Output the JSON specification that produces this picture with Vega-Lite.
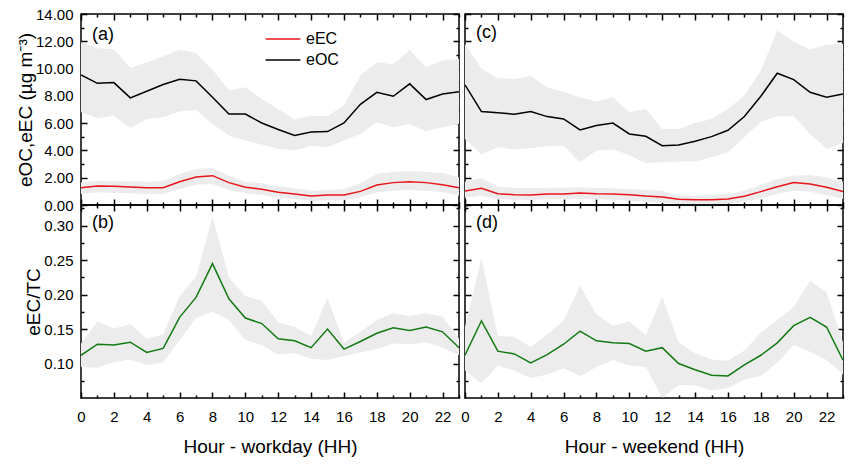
{
  "$schema": "https://vega.github.io/schema/vega-lite/v6.json",
  "background": "white",
  "padding": {"left": 15, "top": 6, "right": 5, "bottom": 5},
  "datasets": {
    "top": [
      {"day": "workday", "series": "eOC", "hour": 0, "mean": 9.54, "lo": 6.80, "hi": 11.93},
      {"day": "workday", "series": "eOC", "hour": 1, "mean": 8.92, "lo": 6.36, "hi": 11.49},
      {"day": "workday", "series": "eOC", "hour": 2, "mean": 8.97, "lo": 6.55, "hi": 11.44},
      {"day": "workday", "series": "eOC", "hour": 3, "mean": 7.85, "lo": 5.65, "hi": 10.05},
      {"day": "workday", "series": "eOC", "hour": 4, "mean": 8.34, "lo": 6.31, "hi": 10.46},
      {"day": "workday", "series": "eOC", "hour": 5, "mean": 8.83, "lo": 6.43, "hi": 10.88},
      {"day": "workday", "series": "eOC", "hour": 6, "mean": 9.22, "lo": 6.85, "hi": 11.39},
      {"day": "workday", "series": "eOC", "hour": 7, "mean": 9.10, "lo": 6.97, "hi": 11.12},
      {"day": "workday", "series": "eOC", "hour": 8, "mean": 7.90, "lo": 5.94, "hi": 9.93},
      {"day": "workday", "series": "eOC", "hour": 9, "mean": 6.67, "lo": 5.09, "hi": 8.39},
      {"day": "workday", "series": "eOC", "hour": 10, "mean": 6.67, "lo": 4.72, "hi": 8.63},
      {"day": "workday", "series": "eOC", "hour": 11, "mean": 6.01, "lo": 4.43, "hi": 7.77},
      {"day": "workday", "series": "eOC", "hour": 12, "mean": 5.53, "lo": 4.11, "hi": 7.04},
      {"day": "workday", "series": "eOC", "hour": 13, "mean": 5.09, "lo": 3.99, "hi": 6.26},
      {"day": "workday", "series": "eOC", "hour": 14, "mean": 5.35, "lo": 4.35, "hi": 6.55},
      {"day": "workday", "series": "eOC", "hour": 15, "mean": 5.38, "lo": 4.23, "hi": 6.50},
      {"day": "workday", "series": "eOC", "hour": 16, "mean": 6.01, "lo": 4.72, "hi": 7.33},
      {"day": "workday", "series": "eOC", "hour": 17, "mean": 7.38, "lo": 5.21, "hi": 9.49},
      {"day": "workday", "series": "eOC", "hour": 18, "mean": 8.26, "lo": 6.06, "hi": 10.46},
      {"day": "workday", "series": "eOC", "hour": 19, "mean": 7.97, "lo": 5.70, "hi": 10.32},
      {"day": "workday", "series": "eOC", "hour": 20, "mean": 8.88, "lo": 5.94, "hi": 11.37},
      {"day": "workday", "series": "eOC", "hour": 21, "mean": 7.73, "lo": 5.40, "hi": 10.10},
      {"day": "workday", "series": "eOC", "hour": 22, "mean": 8.14, "lo": 5.70, "hi": 10.59},
      {"day": "workday", "series": "eOC", "hour": 23, "mean": 8.31, "lo": 5.94, "hi": 10.71},
      {"day": "workday", "series": "eEC", "hour": 0, "mean": 1.27, "lo": 0.81, "hi": 1.66},
      {"day": "workday", "series": "eEC", "hour": 1, "mean": 1.39, "lo": 0.93, "hi": 1.78},
      {"day": "workday", "series": "eEC", "hour": 2, "mean": 1.37, "lo": 0.88, "hi": 1.76},
      {"day": "workday", "series": "eEC", "hour": 3, "mean": 1.32, "lo": 0.86, "hi": 1.74},
      {"day": "workday", "series": "eEC", "hour": 4, "mean": 1.27, "lo": 0.81, "hi": 1.71},
      {"day": "workday", "series": "eEC", "hour": 5, "mean": 1.27, "lo": 0.81, "hi": 1.74},
      {"day": "workday", "series": "eEC", "hour": 6, "mean": 1.71, "lo": 1.17, "hi": 2.27},
      {"day": "workday", "series": "eEC", "hour": 7, "mean": 2.05, "lo": 1.49, "hi": 2.64},
      {"day": "workday", "series": "eEC", "hour": 8, "mean": 2.15, "lo": 1.54, "hi": 2.71},
      {"day": "workday", "series": "eEC", "hour": 9, "mean": 1.64, "lo": 1.10, "hi": 2.15},
      {"day": "workday", "series": "eEC", "hour": 10, "mean": 1.30, "lo": 0.86, "hi": 1.71},
      {"day": "workday", "series": "eEC", "hour": 11, "mean": 1.15, "lo": 0.73, "hi": 1.59},
      {"day": "workday", "series": "eEC", "hour": 12, "mean": 0.93, "lo": 0.56, "hi": 1.37},
      {"day": "workday", "series": "eEC", "hour": 13, "mean": 0.81, "lo": 0.44, "hi": 1.22},
      {"day": "workday", "series": "eEC", "hour": 14, "mean": 0.66, "lo": 0.29, "hi": 1.05},
      {"day": "workday", "series": "eEC", "hour": 15, "mean": 0.73, "lo": 0.34, "hi": 1.10},
      {"day": "workday", "series": "eEC", "hour": 16, "mean": 0.73, "lo": 0.34, "hi": 1.17},
      {"day": "workday", "series": "eEC", "hour": 17, "mean": 1.00, "lo": 0.56, "hi": 1.59},
      {"day": "workday", "series": "eEC", "hour": 18, "mean": 1.47, "lo": 0.93, "hi": 2.27},
      {"day": "workday", "series": "eEC", "hour": 19, "mean": 1.64, "lo": 1.05, "hi": 2.44},
      {"day": "workday", "series": "eEC", "hour": 20, "mean": 1.71, "lo": 1.10, "hi": 2.47},
      {"day": "workday", "series": "eEC", "hour": 21, "mean": 1.64, "lo": 1.05, "hi": 2.44},
      {"day": "workday", "series": "eEC", "hour": 22, "mean": 1.49, "lo": 0.93, "hi": 2.35},
      {"day": "workday", "series": "eEC", "hour": 23, "mean": 1.27, "lo": 0.68, "hi": 2.03},
      {"day": "weekend", "series": "eOC", "hour": 0, "mean": 8.80, "lo": 4.84, "hi": 11.81},
      {"day": "weekend", "series": "eOC", "hour": 1, "mean": 6.85, "lo": 3.72, "hi": 9.98},
      {"day": "weekend", "series": "eOC", "hour": 2, "mean": 6.77, "lo": 4.23, "hi": 9.29},
      {"day": "weekend", "series": "eOC", "hour": 3, "mean": 6.65, "lo": 4.06, "hi": 9.24},
      {"day": "weekend", "series": "eOC", "hour": 4, "mean": 6.85, "lo": 4.18, "hi": 9.46},
      {"day": "weekend", "series": "eOC", "hour": 5, "mean": 6.48, "lo": 4.30, "hi": 8.63},
      {"day": "weekend", "series": "eOC", "hour": 6, "mean": 6.31, "lo": 4.35, "hi": 8.31},
      {"day": "weekend", "series": "eOC", "hour": 7, "mean": 5.50, "lo": 3.13, "hi": 7.90},
      {"day": "weekend", "series": "eOC", "hour": 8, "mean": 5.82, "lo": 3.99, "hi": 7.58},
      {"day": "weekend", "series": "eOC", "hour": 9, "mean": 6.01, "lo": 4.06, "hi": 7.90},
      {"day": "weekend", "series": "eOC", "hour": 10, "mean": 5.21, "lo": 3.67, "hi": 6.80},
      {"day": "weekend", "series": "eOC", "hour": 11, "mean": 5.04, "lo": 3.06, "hi": 7.04},
      {"day": "weekend", "series": "eOC", "hour": 12, "mean": 4.35, "lo": 3.13, "hi": 5.57},
      {"day": "weekend", "series": "eOC", "hour": 13, "mean": 4.40, "lo": 3.18, "hi": 5.57},
      {"day": "weekend", "series": "eOC", "hour": 14, "mean": 4.67, "lo": 3.18, "hi": 6.01},
      {"day": "weekend", "series": "eOC", "hour": 15, "mean": 5.01, "lo": 3.50, "hi": 6.31},
      {"day": "weekend", "series": "eOC", "hour": 16, "mean": 5.48, "lo": 3.86, "hi": 7.04},
      {"day": "weekend", "series": "eOC", "hour": 17, "mean": 6.48, "lo": 4.96, "hi": 8.02},
      {"day": "weekend", "series": "eOC", "hour": 18, "mean": 7.97, "lo": 6.11, "hi": 9.85},
      {"day": "weekend", "series": "eOC", "hour": 19, "mean": 9.66, "lo": 6.50, "hi": 12.79},
      {"day": "weekend", "series": "eOC", "hour": 20, "mean": 9.19, "lo": 6.50, "hi": 11.98},
      {"day": "weekend", "series": "eOC", "hour": 21, "mean": 8.26, "lo": 5.21, "hi": 11.39},
      {"day": "weekend", "series": "eOC", "hour": 22, "mean": 7.90, "lo": 4.11, "hi": 11.74},
      {"day": "weekend", "series": "eOC", "hour": 23, "mean": 8.14, "lo": 4.55, "hi": 11.81},
      {"day": "weekend", "series": "eEC", "hour": 0, "mean": 1.03, "lo": 0.54, "hi": 1.71},
      {"day": "weekend", "series": "eEC", "hour": 1, "mean": 1.22, "lo": 0.68, "hi": 1.98},
      {"day": "weekend", "series": "eEC", "hour": 2, "mean": 0.83, "lo": 0.44, "hi": 1.34},
      {"day": "weekend", "series": "eEC", "hour": 3, "mean": 0.76, "lo": 0.39, "hi": 1.27},
      {"day": "weekend", "series": "eEC", "hour": 4, "mean": 0.73, "lo": 0.37, "hi": 1.22},
      {"day": "weekend", "series": "eEC", "hour": 5, "mean": 0.81, "lo": 0.42, "hi": 1.27},
      {"day": "weekend", "series": "eEC", "hour": 6, "mean": 0.81, "lo": 0.42, "hi": 1.27},
      {"day": "weekend", "series": "eEC", "hour": 7, "mean": 0.88, "lo": 0.44, "hi": 1.30},
      {"day": "weekend", "series": "eEC", "hour": 8, "mean": 0.83, "lo": 0.42, "hi": 1.25},
      {"day": "weekend", "series": "eEC", "hour": 9, "mean": 0.81, "lo": 0.39, "hi": 1.22},
      {"day": "weekend", "series": "eEC", "hour": 10, "mean": 0.76, "lo": 0.32, "hi": 1.17},
      {"day": "weekend", "series": "eEC", "hour": 11, "mean": 0.66, "lo": 0.24, "hi": 1.10},
      {"day": "weekend", "series": "eEC", "hour": 12, "mean": 0.59, "lo": 0.15, "hi": 1.03},
      {"day": "weekend", "series": "eEC", "hour": 13, "mean": 0.42, "lo": 0.07, "hi": 0.73},
      {"day": "weekend", "series": "eEC", "hour": 14, "mean": 0.39, "lo": 0.05, "hi": 0.68},
      {"day": "weekend", "series": "eEC", "hour": 15, "mean": 0.39, "lo": 0.05, "hi": 0.73},
      {"day": "weekend", "series": "eEC", "hour": 16, "mean": 0.44, "lo": 0.10, "hi": 0.81},
      {"day": "weekend", "series": "eEC", "hour": 17, "mean": 0.64, "lo": 0.24, "hi": 1.05},
      {"day": "weekend", "series": "eEC", "hour": 18, "mean": 0.98, "lo": 0.49, "hi": 1.47},
      {"day": "weekend", "series": "eEC", "hour": 19, "mean": 1.34, "lo": 0.81, "hi": 1.91},
      {"day": "weekend", "series": "eEC", "hour": 20, "mean": 1.64, "lo": 1.05, "hi": 2.15},
      {"day": "weekend", "series": "eEC", "hour": 21, "mean": 1.54, "lo": 0.98, "hi": 2.20},
      {"day": "weekend", "series": "eEC", "hour": 22, "mean": 1.30, "lo": 0.73, "hi": 2.03},
      {"day": "weekend", "series": "eEC", "hour": 23, "mean": 0.98, "lo": 0.44, "hi": 1.71}
    ],
    "ratio": [
      {"day": "workday", "hour": 0, "mean": 0.112, "lo": 0.095, "hi": 0.129},
      {"day": "workday", "hour": 1, "mean": 0.128, "lo": 0.094, "hi": 0.161},
      {"day": "workday", "hour": 2, "mean": 0.127, "lo": 0.102, "hi": 0.151},
      {"day": "workday", "hour": 3, "mean": 0.131, "lo": 0.106, "hi": 0.157},
      {"day": "workday", "hour": 4, "mean": 0.116, "lo": 0.098, "hi": 0.136},
      {"day": "workday", "hour": 5, "mean": 0.122, "lo": 0.101, "hi": 0.142},
      {"day": "workday", "hour": 6, "mean": 0.167, "lo": 0.134, "hi": 0.198},
      {"day": "workday", "hour": 7, "mean": 0.196, "lo": 0.166, "hi": 0.226},
      {"day": "workday", "hour": 8, "mean": 0.245, "lo": 0.175, "hi": 0.313},
      {"day": "workday", "hour": 9, "mean": 0.194, "lo": 0.163, "hi": 0.225},
      {"day": "workday", "hour": 10, "mean": 0.166, "lo": 0.134, "hi": 0.198},
      {"day": "workday", "hour": 11, "mean": 0.158, "lo": 0.127, "hi": 0.191},
      {"day": "workday", "hour": 12, "mean": 0.136, "lo": 0.113, "hi": 0.160},
      {"day": "workday", "hour": 13, "mean": 0.133, "lo": 0.115, "hi": 0.153},
      {"day": "workday", "hour": 14, "mean": 0.123, "lo": 0.107, "hi": 0.140},
      {"day": "workday", "hour": 15, "mean": 0.150, "lo": 0.105, "hi": 0.195},
      {"day": "workday", "hour": 16, "mean": 0.121, "lo": 0.111, "hi": 0.131},
      {"day": "workday", "hour": 17, "mean": 0.132, "lo": 0.116, "hi": 0.146},
      {"day": "workday", "hour": 18, "mean": 0.144, "lo": 0.121, "hi": 0.163},
      {"day": "workday", "hour": 19, "mean": 0.152, "lo": 0.129, "hi": 0.173},
      {"day": "workday", "hour": 20, "mean": 0.148, "lo": 0.128, "hi": 0.169},
      {"day": "workday", "hour": 21, "mean": 0.153, "lo": 0.131, "hi": 0.173},
      {"day": "workday", "hour": 22, "mean": 0.146, "lo": 0.123, "hi": 0.168},
      {"day": "workday", "hour": 23, "mean": 0.123, "lo": 0.112, "hi": 0.136},
      {"day": "weekend", "hour": 0, "mean": 0.112, "lo": 0.090, "hi": 0.153},
      {"day": "weekend", "hour": 1, "mean": 0.162, "lo": 0.071, "hi": 0.253},
      {"day": "weekend", "hour": 2, "mean": 0.118, "lo": 0.097, "hi": 0.140},
      {"day": "weekend", "hour": 3, "mean": 0.114, "lo": 0.090, "hi": 0.139},
      {"day": "weekend", "hour": 4, "mean": 0.101, "lo": 0.079, "hi": 0.124},
      {"day": "weekend", "hour": 5, "mean": 0.113, "lo": 0.084, "hi": 0.142},
      {"day": "weekend", "hour": 6, "mean": 0.128, "lo": 0.093, "hi": 0.162},
      {"day": "weekend", "hour": 7, "mean": 0.147, "lo": 0.082, "hi": 0.213},
      {"day": "weekend", "hour": 8, "mean": 0.133, "lo": 0.095, "hi": 0.171},
      {"day": "weekend", "hour": 9, "mean": 0.130, "lo": 0.105, "hi": 0.155},
      {"day": "weekend", "hour": 10, "mean": 0.129, "lo": 0.097, "hi": 0.161},
      {"day": "weekend", "hour": 11, "mean": 0.118, "lo": 0.095, "hi": 0.141},
      {"day": "weekend", "hour": 12, "mean": 0.123, "lo": 0.050, "hi": 0.197},
      {"day": "weekend", "hour": 13, "mean": 0.100, "lo": 0.069, "hi": 0.131},
      {"day": "weekend", "hour": 14, "mean": 0.091, "lo": 0.068, "hi": 0.115},
      {"day": "weekend", "hour": 15, "mean": 0.083, "lo": 0.061, "hi": 0.106},
      {"day": "weekend", "hour": 16, "mean": 0.082, "lo": 0.064, "hi": 0.104},
      {"day": "weekend", "hour": 17, "mean": 0.098, "lo": 0.077, "hi": 0.119},
      {"day": "weekend", "hour": 18, "mean": 0.112, "lo": 0.082, "hi": 0.145},
      {"day": "weekend", "hour": 19, "mean": 0.130, "lo": 0.101, "hi": 0.163},
      {"day": "weekend", "hour": 20, "mean": 0.155, "lo": 0.127, "hi": 0.182},
      {"day": "weekend", "hour": 21, "mean": 0.167, "lo": 0.117, "hi": 0.220},
      {"day": "weekend", "hour": 22, "mean": 0.153, "lo": 0.105, "hi": 0.203},
      {"day": "weekend", "hour": 23, "mean": 0.105, "lo": 0.084, "hi": 0.131}
    ]
  },
  "columns": 2,
  "spacing": {"row": 0, "column": 6},
  "bounds": "flush",
  "concat": [
    {
      "width": 378,
      "height": 191,
      "title": {"text": "(a)", "offset": -37},
      "data": {"name": "top"},
      "transform": [{"filter": "datum.day === 'workday'"}],
      "layer": [
        {
          "mark": {"type": "area", "color": "#ececec", "clip": true},
          "encoding": {
            "x": {"field": "hour", "type": "quantitative", "scale": {"domain": [0, 23], "nice": false},
              "axis": {"orient": "bottom", "values": [0,1,2,3,4,5,6,7,8,9,10,11,12,13,14,15,16,17,18,19,20,21,22,23], "labels": false, "title": null,
                "tickSize": {"condition": {"test": "datum.value % 2 === 0", "value": -6}, "value": -3}}},
            "y": {"field": "lo", "type": "quantitative", "scale": {"domain": [0, 14], "nice": false},
              "title": "eOC,eEC (µg m⁻³)",
              "axis": {"orient": "left", "values": [0,1,2,3,4,5,6,7,8,9,10,11,12,13,14],
                "labelExpr": "datum.value % 2 === 0 ? format(datum.value, '.2f') : ''",
                "tickSize": {"condition": {"test": "datum.value % 2 === 0", "value": -6}, "value": -3}}},
            "y2": {"field": "hi"},
            "detail": {"field": "series"}
          }
        },
        {
          "mark": {"type": "line", "strokeWidth": 1.5, "clip": true},
          "encoding": {
            "x": {"field": "hour", "type": "quantitative", "scale": {"domain": [0, 23], "nice": false},
              "axis": {"orient": "top", "values": [0,1,2,3,4,5,6,7,8,9,10,11,12,13,14,15,16,17,18,19,20,21,22,23], "labels": false, "title": null,
                "tickSize": {"condition": {"test": "datum.value % 2 === 0", "value": -6}, "value": -3}}},
            "y": {"field": "mean", "type": "quantitative", "scale": {"domain": [0, 14], "nice": false},
              "axis": {"orient": "right", "values": [0,1,2,3,4,5,6,7,8,9,10,11,12,13,14], "labels": false, "title": null,
                "tickSize": {"condition": {"test": "datum.value % 2 === 0", "value": -6}, "value": -3}}},
            "color": {"field": "series", "type": "nominal",
              "scale": {"domain": ["eEC", "eOC"], "range": ["#e8161b", "#000000"]},
              "legend": {"orient": "none", "legendX": 189, "legendY": 12, "title": null,
                "symbolType": "M-1.45,0H1.45", "symbolSize": 576, "labelOffset": 10, "rowPadding": -5}}
          }
        }
      ],
      "resolve": {"axis": {"x": "independent", "y": "independent"}}
    },
    {
      "width": 378,
      "height": 191,
      "title": {"text": "(c)", "offset": -29},
      "data": {"name": "top"},
      "transform": [{"filter": "datum.day === 'weekend'"}],
      "layer": [
        {
          "mark": {"type": "area", "color": "#ececec", "clip": true},
          "encoding": {
            "x": {"field": "hour", "type": "quantitative", "scale": {"domain": [0, 23], "nice": false},
              "axis": {"orient": "bottom", "values": [0,1,2,3,4,5,6,7,8,9,10,11,12,13,14,15,16,17,18,19,20,21,22,23], "labels": false, "title": null,
                "tickSize": {"condition": {"test": "datum.value % 2 === 0", "value": -6}, "value": -3}}},
            "y": {"field": "lo", "type": "quantitative", "scale": {"domain": [0, 14], "nice": false},
              "axis": {"orient": "left", "values": [0,1,2,3,4,5,6,7,8,9,10,11,12,13,14], "labels": false, "title": null,
                "tickSize": {"condition": {"test": "datum.value % 2 === 0", "value": -6}, "value": -3}}},
            "y2": {"field": "hi"},
            "detail": {"field": "series"}
          }
        },
        {
          "mark": {"type": "line", "strokeWidth": 1.5, "clip": true},
          "encoding": {
            "x": {"field": "hour", "type": "quantitative", "scale": {"domain": [0, 23], "nice": false},
              "axis": {"orient": "top", "values": [0,1,2,3,4,5,6,7,8,9,10,11,12,13,14,15,16,17,18,19,20,21,22,23], "labels": false, "title": null,
                "tickSize": {"condition": {"test": "datum.value % 2 === 0", "value": -6}, "value": -3}}},
            "y": {"field": "mean", "type": "quantitative", "scale": {"domain": [0, 14], "nice": false},
              "axis": {"orient": "right", "values": [0,1,2,3,4,5,6,7,8,9,10,11,12,13,14], "labels": false, "title": null,
                "tickSize": {"condition": {"test": "datum.value % 2 === 0", "value": -6}, "value": -3}}},
            "color": {"field": "series", "type": "nominal",
              "scale": {"domain": ["eEC", "eOC"], "range": ["#e8161b", "#000000"]},
              "legend": null}
          }
        }
      ],
      "resolve": {"axis": {"x": "independent", "y": "independent"}}
    },
    {
      "width": 378,
      "height": 193,
      "title": {"text": "(b)", "offset": -28},
      "data": {"name": "ratio"},
      "transform": [{"filter": "datum.day === 'workday'"}],
      "layer": [
        {
          "mark": {"type": "area", "color": "#ececec", "clip": true},
          "encoding": {
            "x": {"field": "hour", "type": "quantitative", "scale": {"domain": [0, 23], "nice": false},
              "title": "Hour - workday (HH)",
              "axis": {"orient": "bottom", "values": [0,1,2,3,4,5,6,7,8,9,10,11,12,13,14,15,16,17,18,19,20,21,22,23],
                "labelExpr": "datum.value % 2 === 0 ? datum.label : ''",
                "tickSize": {"condition": {"test": "datum.value % 2 === 0", "value": -6}, "value": -3}}},
            "y": {"field": "lo", "type": "quantitative", "scale": {"domain": [0.05, 0.33], "nice": false},
              "title": "eEC/TC",
              "axis": {"orient": "left", "values": [0.075,0.1,0.125,0.15,0.175,0.2,0.225,0.25,0.275,0.3,0.325],
                "labelExpr": "round(datum.value * 40) % 2 === 0 ? format(datum.value, '.2f') : ''",
                "tickSize": {"condition": {"test": "round(datum.value * 40) % 2 === 0", "value": -6}, "value": -3}}},
            "y2": {"field": "hi"}
          }
        },
        {
          "mark": {"type": "line", "strokeWidth": 1.5, "color": "#137a13", "clip": true},
          "encoding": {
            "x": {"field": "hour", "type": "quantitative", "scale": {"domain": [0, 23], "nice": false},
              "axis": {"orient": "top", "values": [0,1,2,3,4,5,6,7,8,9,10,11,12,13,14,15,16,17,18,19,20,21,22,23], "labels": false, "title": null,
                "tickSize": {"condition": {"test": "datum.value % 2 === 0", "value": -6}, "value": -3}}},
            "y": {"field": "mean", "type": "quantitative", "scale": {"domain": [0.05, 0.33], "nice": false},
              "axis": {"orient": "right", "values": [0.075,0.1,0.125,0.15,0.175,0.2,0.225,0.25,0.275,0.3,0.325], "labels": false, "title": null,
                "tickSize": {"condition": {"test": "round(datum.value * 40) % 2 === 0", "value": -6}, "value": -3}}}
          }
        }
      ],
      "resolve": {"axis": {"x": "independent", "y": "independent"}}
    },
    {
      "width": 378,
      "height": 193,
      "title": {"text": "(d)", "offset": -28},
      "data": {"name": "ratio"},
      "transform": [{"filter": "datum.day === 'weekend'"}],
      "layer": [
        {
          "mark": {"type": "area", "color": "#ececec", "clip": true},
          "encoding": {
            "x": {"field": "hour", "type": "quantitative", "scale": {"domain": [0, 23], "nice": false},
              "title": "Hour - weekend (HH)",
              "axis": {"orient": "bottom", "values": [0,1,2,3,4,5,6,7,8,9,10,11,12,13,14,15,16,17,18,19,20,21,22,23],
                "labelExpr": "datum.value % 2 === 0 ? datum.label : ''",
                "tickSize": {"condition": {"test": "datum.value % 2 === 0", "value": -6}, "value": -3}}},
            "y": {"field": "lo", "type": "quantitative", "scale": {"domain": [0.05, 0.33], "nice": false},
              "axis": {"orient": "left", "values": [0.075,0.1,0.125,0.15,0.175,0.2,0.225,0.25,0.275,0.3,0.325], "labels": false, "title": null,
                "tickSize": {"condition": {"test": "round(datum.value * 40) % 2 === 0", "value": -6}, "value": -3}}},
            "y2": {"field": "hi"}
          }
        },
        {
          "mark": {"type": "line", "strokeWidth": 1.5, "color": "#137a13", "clip": true},
          "encoding": {
            "x": {"field": "hour", "type": "quantitative", "scale": {"domain": [0, 23], "nice": false},
              "axis": {"orient": "top", "values": [0,1,2,3,4,5,6,7,8,9,10,11,12,13,14,15,16,17,18,19,20,21,22,23], "labels": false, "title": null,
                "tickSize": {"condition": {"test": "datum.value % 2 === 0", "value": -6}, "value": -3}}},
            "y": {"field": "mean", "type": "quantitative", "scale": {"domain": [0.05, 0.33], "nice": false},
              "axis": {"orient": "right", "values": [0.075,0.1,0.125,0.15,0.175,0.2,0.225,0.25,0.275,0.3,0.325], "labels": false, "title": null,
                "tickSize": {"condition": {"test": "round(datum.value * 40) % 2 === 0", "value": -6}, "value": -3}}}
          }
        }
      ],
      "resolve": {"axis": {"x": "independent", "y": "independent"}}
    }
  ],
  "resolve": {"scale": {"color": "independent"}},
  "config": {
    "font": "Liberation Sans",
    "view": {"stroke": "#000000", "strokeWidth": 1.5},
    "axis": {
      "domain": false,
      "grid": false,
      "labelFlush": false,
      "tickColor": "#000000",
      "tickWidth": 1.5,
      "labelFont": "Liberation Sans",
      "labelFontSize": 15,
      "labelColor": "#000000",
      "labelPadding": 14,
      "titleFont": "Liberation Sans",
      "titleFontSize": 19,
      "titleFontWeight": "normal",
      "titleColor": "#000000",
      "titlePadding": 0
    },
    "axisX": {"labelPadding": 17, "titlePadding": 13},
    "legend": {
      "symbolStrokeWidth": 1.5,
      "labelFont": "Liberation Sans",
      "labelFontSize": 16,
      "labelColor": "#000000"
    },
    "title": {
      "anchor": "start",
      "frame": "group",
      "orient": "top",
      "baseline": "bottom",
      "dx": 11,
      "fontSize": 18,
      "fontWeight": "normal",
      "font": "Liberation Sans",
      "color": "#000000"
    }
  }
}
